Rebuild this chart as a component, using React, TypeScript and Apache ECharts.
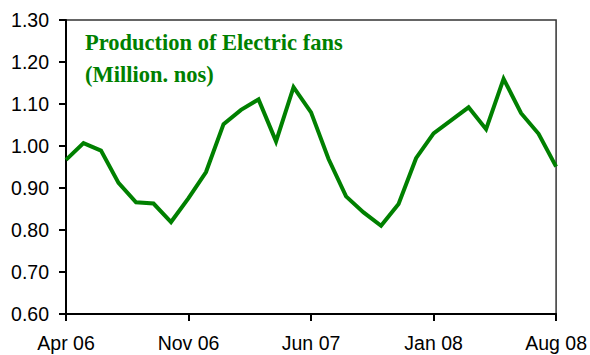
import React, { useEffect, useRef } from "react";
import * as echarts from "echarts";

const months: string[] = [
  "Apr 06", "May 06", "Jun 06", "Jul 06", "Aug 06", "Sep 06", "Oct 06", "Nov 06", "Dec 06",
  "Jan 07", "Feb 07", "Mar 07", "Apr 07", "May 07", "Jun 07", "Jul 07", "Aug 07", "Sep 07",
  "Oct 07", "Nov 07", "Dec 07", "Jan 08", "Feb 08", "Mar 08", "Apr 08", "May 08", "Jun 08",
  "Jul 08", "Aug 08",
];

const production: number[] = [
  0.967, 1.007, 0.989, 0.912, 0.866, 0.863, 0.819, 0.876, 0.938,
  1.052, 1.086, 1.111, 1.011, 1.140, 1.080, 0.969, 0.880, 0.842,
  0.810, 0.862, 0.971, 1.030, 1.061, 1.092, 1.040, 1.160, 1.078,
  1.029, 0.951,
];

const titleLines: string[] = ["Production of Electric fans", "(Million. nos)"];

export default function App() {
  const ref = useRef<HTMLDivElement>(null);
  useEffect(() => {
    if (!ref.current) return;
    const chart = echarts.init(ref.current, undefined, { renderer: "svg" });
    chart.setOption({
      animation: false,
      backgroundColor: "#ffffff",
      title: {
        text: titleLines.join("\n"),
        left: 80,
        top: 21,
        textStyle: {
          color: "#008000",
          fontFamily: "'Liberation Serif', 'Times New Roman', serif",
          fontWeight: "bold",
          fontSize: 22.5,
          lineHeight: 32,
        },
      },
      grid: {
        left: 66,
        right: 32,
        top: 20,
        bottom: 41,
        show: true,
        borderColor: "#333333",
        borderWidth: 1.5,
        backgroundColor: "transparent",
      },
      xAxis: {
        type: "category",
        data: months,
        boundaryGap: false,
        axisLine: { show: true, lineStyle: { color: "#000", width: 2 } },
        axisTick: {
          show: true,
          interval: 6,
          length: 7,
          lineStyle: { color: "#000", width: 2 },
        },
        axisLabel: {
          interval: 6,
          color: "#000",
          fontSize: 19.5,
          fontFamily: "'Liberation Sans', Arial, sans-serif",
          margin: 19,
        },
        splitLine: { show: false },
      },
      yAxis: {
        type: "value",
        min: 0.6,
        max: 1.3,
        interval: 0.1,
        axisLine: { show: true, lineStyle: { color: "#000", width: 2 } },
        axisTick: { show: true, length: 7, lineStyle: { color: "#000", width: 2 } },
        axisLabel: {
          color: "#000",
          fontSize: 19.5,
          fontFamily: "'Liberation Sans', Arial, sans-serif",
          margin: 17,
          formatter: (v: number) => v.toFixed(2),
        },
        splitLine: { show: false },
      },
      series: [
        {
          type: "line",
          data: production,
          showSymbol: false,
          symbol: "none",
          lineStyle: { color: "#008000", width: 4, join: "miter" },
          itemStyle: { color: "#008000" },
        },
      ],
    });
    return () => chart.dispose();
  }, []);
  return <div ref={ref} style={{ width: 590, height: 355, position: "absolute", left: 0, top: 0 }} />;
}
